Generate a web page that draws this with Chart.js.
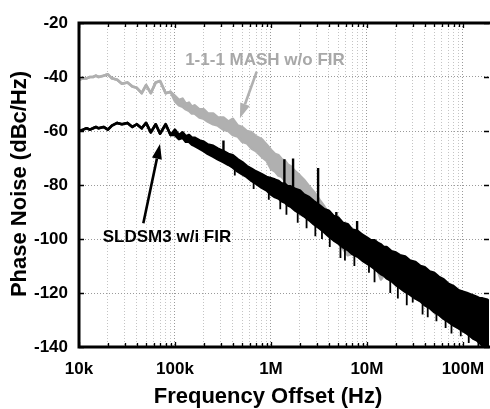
<!DOCTYPE html>
<html><head><meta charset="utf-8">
<script src="https://cdn.jsdelivr.net/npm/chart.js@4"></script>
<style>html,body{margin:0;padding:0;background:#fff;overflow:hidden}#wrap{width:490px;height:409px;position:relative}</style>
</head><body><div id="wrap"><canvas id="c"></canvas></div>
<script>
// ---- data (frequency offset in Hz, phase noise in dBc/Hz) ----
const freqHz = [
 1.0e4,1.1e4,1.2e4,1.3e4,1.4e4,1.5e4,1.6e4,1.8e4,2.0e4,2.2e4,2.5e4,2.8e4,3.2e4,3.6e4,4.0e4,4.5e4,5.0e4,5.6e4,6.3e4,7.0e4,8.0e4,9.0e4,
 1.0e5,1.1e5,1.2e5,1.3e5,1.4e5,1.5e5,1.6e5,1.8e5,2.0e5,2.2e5,2.5e5,2.8e5,3.2e5,3.6e5,4.0e5,4.5e5,5.0e5,5.6e5,6.3e5,7.0e5,8.0e5,9.0e5,
 1.0e6,1.1e6,1.2e6,1.3e6,1.4e6,1.5e6,1.6e6,1.8e6,2.0e6,2.2e6,2.5e6,2.8e6,3.2e6,3.6e6,4.0e6,4.5e6,5.0e6,5.6e6,6.3e6,7.0e6,8.0e6,9.0e6,
 1.0e7,1.1e7,1.2e7,1.3e7,1.4e7,1.5e7,1.6e7,1.8e7,2.0e7,2.2e7,2.5e7,2.8e7,3.2e7,3.6e7,4.0e7,4.5e7,5.0e7,5.6e7,6.3e7,7.0e7,8.0e7,9.0e7,
 1.0e8,1.1e8,1.2e8,1.3e8,1.4e8,1.5e8,1.6e8,1.8e8,1.87e8
];
// SLDSM3 w/i FIR : upper and lower edge of the trace
const sldsmUpper = [
 -60,-59.5,-59,-59.5,-59,-58.5,-59,-58.5,-59.5,-58,-57,-57.5,-57,-58.5,-57.5,-59,-57,-60.5,-57.5,-61,-57.5,-61.5,
 -59.5,-61.5,-60.5,-62,-61.5,-62.5,-62.5,-63.5,-64,-65,-65.5,-66.5,-67.5,-68.5,-69,-70.5,-71.5,-73,-74,-75,-76,-77,
 -77.5,-78,-78.5,-79.5,-79.5,-80.5,-80.5,-81.5,-82,-83.5,-84.5,-86,-87.5,-89,-89.5,-91.5,-92,-94,-94.5,-96.5,-97,-98.5,
 -99.5,-100.5,-100.5,-101.5,-102,-103,-103,-104.5,-105,-106,-106.5,-108,-108.5,-110,-110.5,-112,-112.5,-114,-115,-116.5,-117.5,-119,
 -119.5,-120,-120.5,-121,-121.5,-122,-122,-122.5,-123
];
const sldsmLower = [
 -60,-59.5,-59,-59.5,-59,-58.5,-59,-58.5,-59.5,-58,-57,-57.5,-57,-58.5,-57.5,-59,-57,-60.5,-57.5,-61,-57.5,-61.5,
 -61.5,-63,-62.5,-64,-64,-65,-65.5,-66.5,-67.5,-68.5,-69.5,-70.5,-71.5,-72.5,-73.5,-75,-76,-77,-78.5,-79.5,-81,-82,
 -83.5,-84.5,-85,-86,-86.5,-87.5,-88,-89.5,-90.5,-91.5,-93,-94.5,-96,-97.5,-99,-100.5,-101.5,-103,-104,-105.5,-106.5,-108,
 -109,-110,-111,-112,-113,-113.5,-114.5,-115.5,-117,-118,-119.5,-120.5,-122,-123,-124.5,-125.5,-127,-128,-129.5,-130.5,-132,-133,
 -134,-135,-136,-137,-137.5,-138.5,-139.5,-141,-142
];
// downward noise spikes below the SLDSM3 trace [freq Hz, dBc/Hz]
const sldsmDipFreqHz = [4.2e5,6.6e5,9.5e5,1.25e6,1.45e6,1.9e6,2.35e6,2.9e6,3.4e6,4.1e6,5.3e6,5.9e6,7.4e6,1.05e7,1.2e7,1.75e7,2.1e7,2.6e7,3.0e7,3.8e7,4.3e7,5.3e7,6.6e7,7.6e7,9.5e7,1.15e8,1.45e8];
const sldsmDipDb     = [-76.5,-81.5,-85.5,-89,-91,-94,-96,-99,-100,-103,-107,-108,-110,-112.5,-116,-120,-122,-124.5,-123.5,-128,-129,-130.5,-133,-135,-136,-138.5,-140];
// 1-1-1 MASH w/o FIR : upper and lower edge of the trace
const mashUpper = [
 -41,-40.5,-40.5,-40,-40,-39.5,-40,-39.5,-39,-40.5,-41,-42.5,-42,-43.5,-44,-46,-43,-46,-42,-41.5,-46,-45.5,
 -47,-48.5,-48,-50,-49.5,-51,-50.5,-52,-52,-53.5,-53.5,-55,-55,-56.5,-55.5,-58,-58.5,-60,-60.5,-62,-63,-65,
 -67,-68.5,-69,-70.5,-71,-72.5,-73,-75,-76.5,-78,-80.5,-82.5,-85.5,-88,-90.5,-92.5,-94,-95.5,-97,-98,-99,-100.5,
 -101.5,-102,-103,-103.5,-104,-105,-105,-106.5,-107,-108,-108.5,-110,-110.5,-112,-112.5,-114,-114,-116,-116.5,-118,-118.5,-120,
 -120.5,-121,-121.5,-122,-122.5,-123,-123,-123.5,-124
];
const mashLower = [
 -41,-40.5,-40.5,-40,-40,-39.5,-40,-39.5,-39,-40.5,-41,-42.5,-42,-43.5,-44,-46,-43,-46,-42,-41.5,-46,-45.5,
 -49,-50.5,-51,-52,-52.5,-53.5,-53.5,-55,-55.5,-56.5,-57.5,-58,-59.5,-60,-61.5,-62,-64,-64.5,-66.5,-67.5,-69.5,-71,
 -74,-75,-76.5,-77,-78.5,-79,-80.5,-82,-84,-86,-88,-91,-95,-96.5,-98.5,-100,-101.5,-103.5,-106,-105.5,-106.5,-108,
 -109,-110,-111,-112,-115,-113.5,-114.5,-115.5,-117,-118,-119.5,-120.5,-122,-123,-124.5,-125.5,-127,-128,-129.5,-130.5,-132,-133,
 -134,-135,-136,-137,-137.5,-138.5,-139.5,-141,-142
];
// spurs on the SLDSM3 trace
const spurFreqHz = [3.2e5, 1.38e6, 1.7e6, 3.1e6, 4.8e6, 7.9e6];
const spurTopDb  = [-63.5, -70.5, -70.2, -73.7, -90, -93.3];

const xDecades = [1e4, 1e5, 1e6, 1e7, 1e8];
const xTickLabels = ['10k', '100k', '1M', '10M', '100M'];
const yTickValues = [-140, -120, -100, -80, -60, -40, -20];

const labelMash = {text: '1-1-1 MASH w/o FIR', f: 8.66e5, db: -33.7};
const arrowMash = {f0: 7.1e5, db0: -38.0, f1: 4.75e5, db1: -55.3};
const labelSldsm = {text: 'SLDSM3 w/i FIR', f: 8.26e4, db: -99.3};
const arrowSldsm = {f0: 4.68e4, db0: -94.2, f1: 6.98e4, db1: -64.8};
const xTitle = 'Frequency Offset (Hz)';
const yTitle = 'Phase Noise (dBc/Hz)';

// ---- build ----
const GRAY = '#b0b0b0';
const FONT = '"Liberation Sans", Arial, sans-serif';
const pts = (ys) => freqHz.map((f, i) => ({x: f, y: ys[i]}));
// value of an edge array at frequency f (log-linear interpolation)
const edgeAt = (ys, f) => {
  const lf = Math.log10(f);
  for (let i = 1; i < freqHz.length; i++) {
    if (freqHz[i] >= f) {
      const a = Math.log10(freqHz[i - 1]), b = Math.log10(freqHz[i]);
      const t = (lf - a) / (b - a);
      return ys[i - 1] + t * (ys[i] - ys[i - 1]);
    }
  }
  return ys[ys.length - 1];
};
const spurPts = [];
spurFreqHz.forEach((f, i) => { spurPts.push({x: f, y: edgeAt(sldsmUpper, f) - 3}, {x: f, y: spurTopDb[i]}, {x: f, y: null}); });
const dipPts = [];
sldsmDipFreqHz.forEach((f, i) => { dipPts.push({x: f, y: edgeAt(sldsmLower, f) + 2}, {x: f, y: sldsmDipDb[i]}, {x: f, y: null}); });

const xTickVals = [];
xDecades.forEach(d => { for (let m = 1; m <= 9; m++) { const v = d * m; if (v <= 1.87e8) xTickVals.push(v); } });

const lineDs = (label, ys, color, fill) => ({
  label, data: pts(ys), borderColor: color, backgroundColor: color, borderWidth: 2.6,
  pointRadius: 0, tension: 0, fill: fill ? '-1' : false, borderJoinStyle: 'round'
});

const decoPlugin = {
  id: 'deco',
  afterDatasetsDraw(chart) {
    const {ctx, chartArea: a, scales: {x, y}} = chart;
    ctx.save();
    // inner tick marks
    ctx.strokeStyle = '#000'; ctx.lineWidth = 1.3;
    xTickVals.forEach(v => {
      const px = Math.round(x.getPixelForValue(v)) + 0.5;
      const major = xDecades.includes(v);
      const L = major ? 5 : 4;
      ctx.beginPath();
      ctx.moveTo(px, a.top); ctx.lineTo(px, a.top + L);
      ctx.moveTo(px, a.bottom); ctx.lineTo(px, a.bottom - L);
      ctx.stroke();
    });
    yTickValues.forEach(v => {
      const py = Math.round(y.getPixelForValue(v)) + 0.5;
      ctx.beginPath();
      ctx.moveTo(a.left, py); ctx.lineTo(a.left + 5, py);
      ctx.moveTo(a.right, py); ctx.lineTo(a.right - 5, py);
      ctx.stroke();
    });
    // frame (left, top, bottom)
    ctx.lineWidth = 3; ctx.strokeStyle = '#000';
    ctx.beginPath();
    ctx.moveTo(a.right + 2, a.top); ctx.lineTo(a.left, a.top); ctx.lineTo(a.left, a.bottom); ctx.lineTo(a.right + 2, a.bottom);
    ctx.stroke();
    // arrows
    const arrow = (ar, color) => {
      const x0 = x.getPixelForValue(ar.f0), y0 = y.getPixelForValue(ar.db0);
      const x1 = x.getPixelForValue(ar.f1), y1 = y.getPixelForValue(ar.db1);
      const ang = Math.atan2(y1 - y0, x1 - x0);
      const hl = 15, hw = 5;
      const bx = x1 - hl * Math.cos(ang), by = y1 - hl * Math.sin(ang);
      ctx.strokeStyle = color; ctx.fillStyle = color; ctx.lineWidth = 2.6;
      ctx.beginPath(); ctx.moveTo(x0, y0); ctx.lineTo(bx, by); ctx.stroke();
      ctx.beginPath();
      ctx.moveTo(x1, y1);
      ctx.lineTo(bx + hw * Math.sin(ang), by - hw * Math.cos(ang));
      ctx.lineTo(bx - hw * Math.sin(ang), by + hw * Math.cos(ang));
      ctx.closePath(); ctx.fill();
    };
    arrow(arrowMash, GRAY);
    arrow(arrowSldsm, '#000');
    // labels
    ctx.font = 'bold 17px ' + FONT;
    ctx.textAlign = 'center'; ctx.textBaseline = 'middle';
    ctx.fillStyle = '#a8a8a8';
    ctx.fillText(labelMash.text, x.getPixelForValue(labelMash.f), y.getPixelForValue(labelMash.db));
    ctx.fillStyle = '#000';
    ctx.fillText(labelSldsm.text, x.getPixelForValue(labelSldsm.f), y.getPixelForValue(labelSldsm.db));
    // axis titles
    ctx.font = 'bold 22px ' + FONT;
    ctx.fillText(xTitle, 268, 397);
    ctx.translate(20, 184); ctx.rotate(-Math.PI / 2);
    ctx.fillText(yTitle, 0, 0);
    ctx.restore();
  }
};

new Chart(document.getElementById('c'), {
  type: 'line',
  data: {
    datasets: [
      {label: 'spurs', data: spurPts, borderColor: '#000', borderWidth: 2.4, pointRadius: 0, spanGaps: false, fill: false},
      {label: 'dips', data: dipPts, borderColor: '#000', borderWidth: 1.8, pointRadius: 0, spanGaps: false, fill: false},
      lineDs('SLDSM3 upper', sldsmUpper, '#000', false),
      lineDs('SLDSM3 lower', sldsmLower, '#000', true),
      lineDs('MASH upper', mashUpper, GRAY, false),
      lineDs('MASH lower', mashLower, GRAY, true)
    ]
  },
  options: {
    responsive: true, maintainAspectRatio: false, animation: false, devicePixelRatio: 1,
    layout: {padding: {top: 23, right: 1, left: 0, bottom: 0}},
    plugins: {legend: {display: false}, tooltip: {enabled: false}},
    scales: {
      x: {
        type: 'logarithmic', min: 1e4, max: 1.87e8,
        afterBuildTicks: s => { s.ticks = xTickVals.map(v => ({value: v, major: xDecades.includes(v)})); },
        afterFit: s => { s.height = 62; s.paddingLeft = 0; s.paddingRight = 0; },
        ticks: {
          autoSkip: false, maxRotation: 0, padding: 12, color: '#000',
          font: {family: FONT, size: 17, weight: 'bold'},
          callback: (v) => { const i = xDecades.indexOf(v); return i >= 0 ? xTickLabels[i] : ''; }
        },
        grid: {
          drawTicks: false, lineWidth: 1,
          color: c => (c.tick && xDecades.includes(c.tick.value)) ? '#9a9a9a' : '#c4c4c4'
        },
        border: {display: false, dash: [1, 2]},
        title: {display: false}
      },
      y: {
        min: -140, max: -20,
        afterBuildTicks: s => { s.ticks = yTickValues.map(v => ({value: v})); },
        afterFit: s => { s.width = 79; s.paddingTop = 0; s.paddingBottom = 0; },
        ticks: {color: '#000', padding: 11, font: {family: FONT, size: 17, weight: 'bold'}},
        grid: {drawTicks: false, color: '#9a9a9a', lineWidth: 1},
        border: {display: false, dash: [1, 2]},
        title: {display: false}
      }
    }
  },
  plugins: [decoPlugin]
});
</script></body></html>
